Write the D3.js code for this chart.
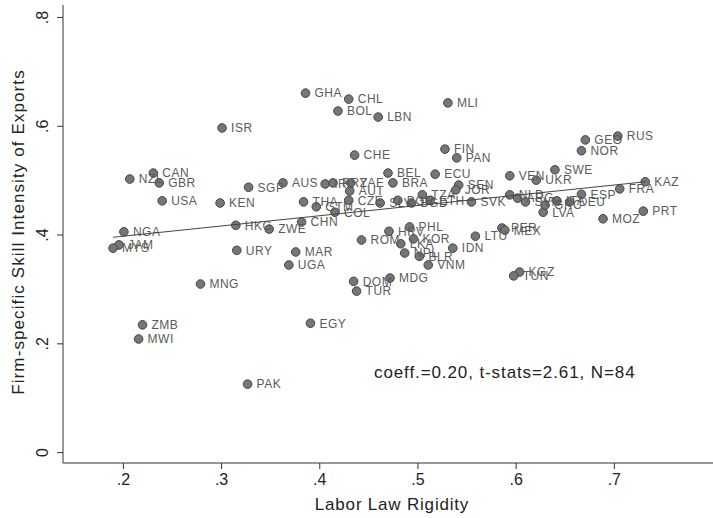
<!DOCTYPE html>
<html>
<head>
<meta charset="utf-8">
<script src="https://cdn.jsdelivr.net/npm/d3@7"></script>
<style>
  body { margin: 0; background: #fff; }
  svg text { font-family: "Liberation Sans", Arial, sans-serif; }
</style>
</head>
<body>
<script>
// country codes, labor law rigidity (x), firm-specific skill intensity (y)
var codes = ["GHA","CHL","BOL","LBN","MLI","ISR","CHE","FIN","PAN","GEO","RUS","NOR","SWE","VEN","UKR","ECU","BEL","BRA","SEN","JOR","KAZ","FRA","ESP","DEU","LVA","PRT","MOZ","SVK","NLD","ARG","SVN","GRC","ITA","AUS","SGP","NZL","CAN","GBR","USA","KEN","THA","GTM","COL","HKG","ZWE","CHN","NGA","JAM","MYS","URY","MAR","UGA","MNG","ZMB","MWI","EGY","PAK","IRL","PRY","ZAF","AUT","CZE","SLV","BGR","BGD","TZA","ETH","HRV","PHL","ROM","KOR","LKA","NPL","BLR","VNM","IDN","LTU","PER","MEX","KGZ","TUN","DOM","MDG","TUR"];
var rigidity = [0.386,0.430,0.419,0.460,0.531,0.301,0.436,0.528,0.540,0.671,0.704,0.667,0.640,0.594,0.621,0.518,0.470,0.475,0.542,0.539,0.732,0.706,0.667,0.655,0.628,0.730,0.689,0.555,0.594,0.602,0.610,0.630,0.642,0.363,0.328,0.207,0.231,0.237,0.240,0.299,0.384,0.397,0.416,0.315,0.349,0.382,0.201,0.196,0.190,0.316,0.376,0.369,0.279,0.220,0.216,0.391,0.327,0.406,0.414,0.432,0.431,0.430,0.462,0.480,0.494,0.505,0.513,0.471,0.492,0.443,0.496,0.483,0.487,0.502,0.511,0.536,0.559,0.586,0.589,0.604,0.598,0.435,0.472,0.438];
var skill = [0.660,0.649,0.627,0.616,0.642,0.596,0.546,0.557,0.541,0.574,0.581,0.554,0.519,0.508,0.500,0.511,0.513,0.495,0.491,0.482,0.497,0.484,0.474,0.460,0.441,0.443,0.429,0.460,0.473,0.467,0.460,0.454,0.462,0.495,0.487,0.502,0.513,0.495,0.462,0.458,0.460,0.451,0.441,0.417,0.410,0.423,0.405,0.381,0.375,0.371,0.368,0.344,0.309,0.234,0.208,0.237,0.125,0.493,0.495,0.495,0.480,0.463,0.458,0.463,0.458,0.473,0.463,0.406,0.414,0.390,0.392,0.383,0.366,0.360,0.344,0.375,0.397,0.412,0.408,0.331,0.324,0.314,0.320,0.296];

// fitted line end points
var fitX = [0.19, 0.732];
var fitY = [0.395, 0.497];

var xTicks = [0.2, 0.3, 0.4, 0.5, 0.6, 0.7];
var yTicks = [0, 0.2, 0.4, 0.6, 0.8];
var note = "coeff.=0.20, t-stats=2.61, N=84";

var w = 713, h = 518;
var svg = d3.select("body").append("svg")
  .attr("width", w)
  .attr("height", h);

var x = d3.scaleLinear().domain([0.139, 0.801]).range([63, 713]);
var y = d3.scaleLinear().domain([-0.02, 0.822]).range([463, 5]);

function fmt(d) {
  return d === 0 ? "0" : d3.format(".1f")(d).replace(/^0/, "");
}

// x axis
var gx = svg.append("g")
  .attr("transform", "translate(0,463)")
  .call(d3.axisBottom(x).tickValues(xTicks).tickFormat(fmt).tickSize(6).tickPadding(5));
gx.select(".domain").attr("stroke", "#333").attr("d", "M63,0H713");
gx.selectAll(".tick line").attr("stroke", "#333");
gx.selectAll(".tick text").attr("font-size", 16).attr("fill", "#222");

// y axis, labels turned like Stata
var gy = svg.append("g")
  .attr("transform", "translate(63,0)")
  .call(d3.axisLeft(y).tickValues(yTicks).tickFormat(fmt).tickSize(6).tickPadding(6));
gy.select(".domain").attr("stroke", "#333").attr("d", "M0,5V463");
gy.selectAll(".tick line").attr("stroke", "#333");
gy.selectAll(".tick text")
  .attr("font-size", 16)
  .attr("fill", "#222")
  .attr("x", 0).attr("dy", 0)
  .attr("text-anchor", "middle")
  .attr("transform", "translate(-15,0) rotate(-90)");

// axis titles
svg.append("text")
  .attr("x", 392).attr("y", 510)
  .attr("text-anchor", "middle")
  .attr("font-size", 17)
  .attr("letter-spacing", 0.8)
  .attr("fill", "#222")
  .text("Labor Law Rigidity");

svg.append("text")
  .attr("transform", "translate(24,232) rotate(-90)")
  .attr("text-anchor", "middle")
  .attr("font-size", 17)
  .attr("letter-spacing", 1.1)
  .attr("fill", "#222")
  .text("Firm-specific Skill Intensity of Exports");

// points
var pts = svg.append("g");
codes.forEach(function(c, i) {
  pts.append("circle")
    .attr("cx", x(rigidity[i]))
    .attr("cy", y(skill[i]))
    .attr("r", 4.3)
    .attr("fill", "#767676")
    .attr("stroke", "#444")
    .attr("stroke-width", 1);
});
codes.forEach(function(c, i) {
  pts.append("text")
    .attr("x", x(rigidity[i]) + 9)
    .attr("y", y(skill[i]))
    .attr("dy", "0.36em")
    .attr("font-size", 12)
    .attr("letter-spacing", 0.5)
    .attr("fill", "#5a5a5a")
    .text(c);
});

// fitted line
svg.append("line")
  .attr("x1", x(fitX[0])).attr("y1", y(fitY[0]))
  .attr("x2", x(fitX[1])).attr("y2", y(fitY[1]))
  .attr("stroke", "#444")
  .attr("stroke-width", 1);

svg.append("text")
  .attr("x", 374).attr("y", 378)
  .attr("font-size", 17)
  .attr("letter-spacing", 0.9)
  .attr("fill", "#222")
  .text(note);
</script>
</body>
</html>
